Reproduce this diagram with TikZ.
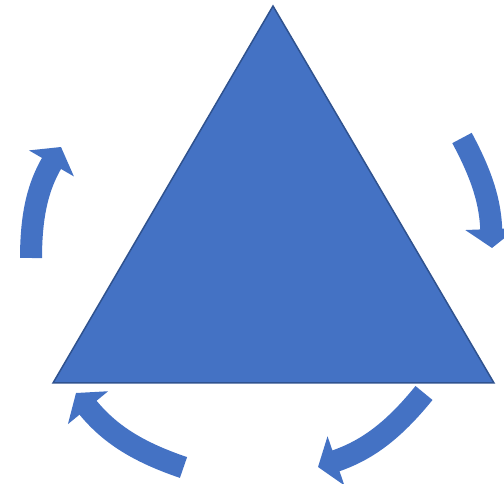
\documentclass[tikz,border=0pt]{standalone}
\usetikzlibrary{arrows.meta}

\definecolor{triblue}{HTML}{4472C4}
\definecolor{triedge}{HTML}{2F528F}

\begin{document}
\begin{tikzpicture}[
  x=1pt,y=1pt,
  tri/.style={fill=triblue,draw=triedge,line width=1.5pt,line join=miter},
  cyc/.style={draw=triblue,line width=22pt,
              -{Triangle[length=19pt,width=51pt,fill=triblue]}},
]
\clip (0,0) rectangle (504,484);

% triangle corners
\coordinate (top) at (273,478);
\coordinate (bl) at (53,101);
\coordinate (br) at (494,101);
\fill[tri] (top) -- (br) -- (bl) -- cycle;

% arrow ends, clockwise round the triangle
\coordinate (lt) at (31,226);
\coordinate (lh) at (61,337);
\coordinate (rt) at (462,346);
\coordinate (rh) at (492,236);
\coordinate (bt) at (424,91);
\coordinate (bh) at (318,17);
\coordinate (at) at (183.5,16.5);
\coordinate (ah) at (76,91);

\draw[cyc] (lt) to[bend left=15] (lh);
\draw[cyc] (rt) to[bend left=13] (rh);
\draw[cyc] (bt) to[bend left=16] (bh);
\draw[cyc] (at) to[bend left=16] (ah);
\end{tikzpicture}
\end{document}
